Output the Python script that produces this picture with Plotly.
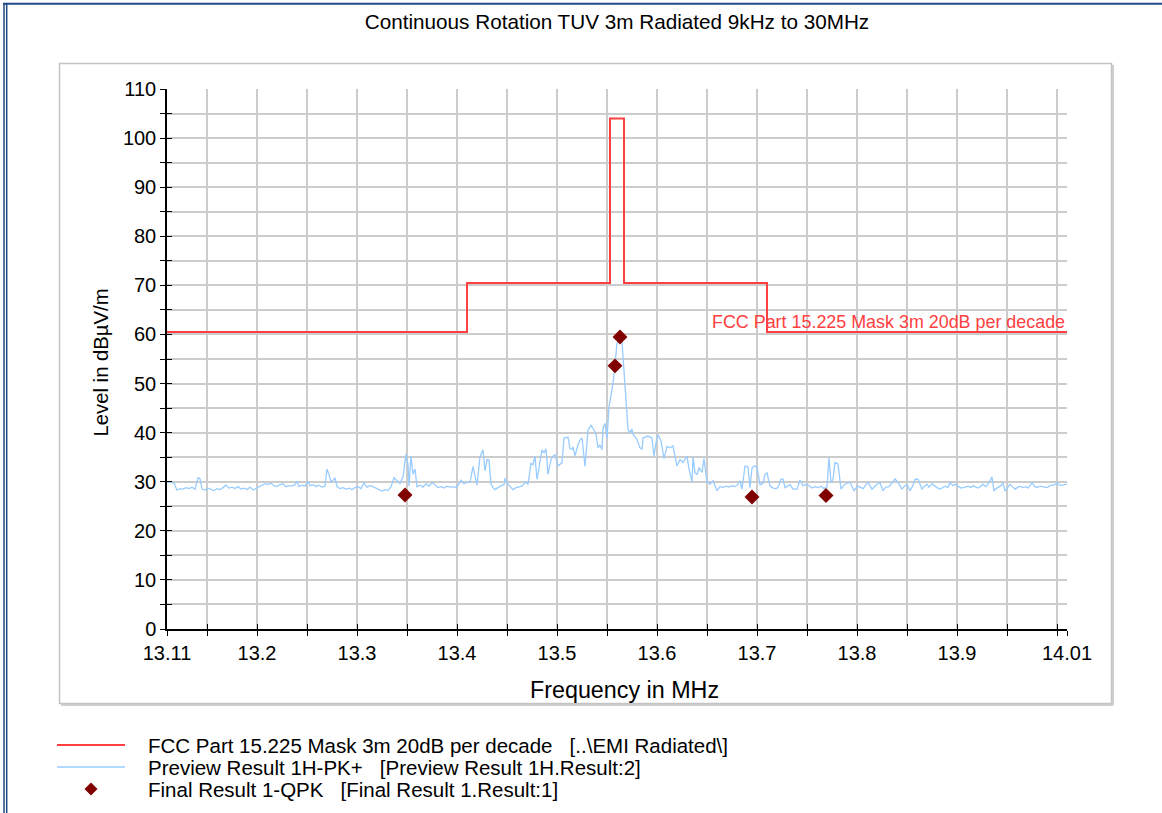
import plotly.graph_objects as go

# ---------------- data ----------------
title_text = "Continuous Rotation TUV 3m Radiated 9kHz to 30MHz"

mask_freq = [13.11, 13.41, 13.553, 13.567, 13.71, 14.01]
mask_level = [60.5, 70.5, 104.0, 70.5, 60.5, 60.5]

final_freq = [13.348, 13.558, 13.563, 13.695, 13.769]
final_level = [27.3, 53.6, 59.5, 26.9, 27.2]

preview_freq = [
    13.110, 13.113, 13.117, 13.120, 13.123, 13.126, 13.129, 13.132, 13.135, 13.138,
    13.141, 13.143, 13.145, 13.148, 13.151, 13.154, 13.157, 13.160, 13.163, 13.166,
    13.169, 13.172, 13.175, 13.178, 13.181, 13.184, 13.187, 13.190, 13.193, 13.196,
    13.199, 13.202, 13.205, 13.208, 13.211, 13.214, 13.217, 13.220, 13.223, 13.226,
    13.229, 13.232, 13.235, 13.238, 13.240, 13.242, 13.245, 13.248, 13.251, 13.253,
    13.256, 13.259, 13.262, 13.265, 13.268, 13.270, 13.272, 13.274, 13.276, 13.278,
    13.280, 13.283, 13.286, 13.289, 13.292, 13.295, 13.298, 13.301, 13.304, 13.307,
    13.310, 13.313, 13.316, 13.319, 13.322, 13.325, 13.328, 13.331, 13.334, 13.337,
    13.340, 13.343, 13.346, 13.349, 13.351, 13.352, 13.354, 13.356, 13.358, 13.360,
    13.363, 13.366, 13.369, 13.372, 13.375, 13.378, 13.381, 13.384, 13.387, 13.390,
    13.393, 13.396, 13.399, 13.402, 13.404, 13.407, 13.410,
    13.413, 13.416, 13.418, 13.420, 13.423, 13.426, 13.428, 13.430, 13.432, 13.434,
    13.436, 13.438, 13.441, 13.444, 13.447, 13.448, 13.451, 13.453, 13.456, 13.459,
    13.462, 13.465, 13.468, 13.471, 13.474, 13.476, 13.478, 13.480, 13.482, 13.485,
    13.487, 13.489, 13.491, 13.494, 13.496, 13.498, 13.501, 13.503, 13.505, 13.507,
    13.511, 13.513, 13.515, 13.516, 13.518, 13.521, 13.523, 13.525, 13.528, 13.531,
    13.534, 13.536, 13.539, 13.541, 13.543, 13.545, 13.546, 13.548, 13.550, 13.552,
    13.554, 13.556, 13.558, 13.560, 13.562, 13.565, 13.566, 13.569, 13.571, 13.573,
    13.575, 13.576, 13.580, 13.583, 13.585, 13.586, 13.589, 13.591, 13.595, 13.597,
    13.599, 13.601, 13.604, 13.607, 13.610, 13.613, 13.616, 13.618, 13.620, 13.623,
    13.626, 13.630, 13.632, 13.635, 13.636, 13.638, 13.640, 13.642, 13.645, 13.647,
    13.650, 13.653, 13.656, 13.660, 13.663, 13.666, 13.669, 13.672, 13.675, 13.678,
    13.680, 13.683, 13.685, 13.688, 13.691, 13.693, 13.695, 13.697, 13.700, 13.703,
    13.706, 13.708, 13.710, 13.713, 13.716, 13.719, 13.721, 13.724, 13.726, 13.728,
    13.731, 13.733, 13.736, 13.740, 13.743, 13.746, 13.750, 13.753, 13.755, 13.758,
    13.761, 13.764, 13.767, 13.770, 13.772, 13.774, 13.776, 13.778, 13.781, 13.784,
    13.788, 13.793, 13.797, 13.801, 13.806, 13.811, 13.815, 13.820, 13.823, 13.826,
    13.829, 13.832, 13.835, 13.838, 13.841, 13.845, 13.847, 13.850, 13.853, 13.856,
    13.858, 13.861, 13.865, 13.867, 13.870, 13.872, 13.875, 13.877, 13.880, 13.883,
    13.886, 13.888, 13.891, 13.893, 13.896, 13.898, 13.901, 13.904, 13.908, 13.911,
    13.914, 13.916, 13.919, 13.921, 13.924, 13.926, 13.929, 13.932, 13.935, 13.937,
    13.939, 13.941, 13.944, 13.946, 13.948, 13.951, 13.953, 13.956, 13.958, 13.961,
    13.963, 13.966, 13.969, 13.971, 13.973, 13.975, 13.978, 13.980, 13.983, 13.985,
    13.988, 13.990, 13.993, 13.995, 13.998, 14.000, 14.003, 14.005, 14.008, 14.010,
]

preview_level = [
    29.8, 29.9, 29.7, 28.3, 28.6, 28.5, 28.8, 28.6, 28.9, 28.5,
    30.8, 30.6, 28.5, 28.3, 28.7, 28.4, 28.2, 28.6, 28.4, 28.8,
    29.3, 28.7, 28.9, 28.6, 29.0, 28.5, 28.7, 28.4, 28.9, 28.3,
    28.6, 29.0, 29.3, 29.6, 29.4, 29.7, 29.2, 29.0, 29.4, 29.6,
    29.0, 29.2, 29.1, 29.4, 30.1, 29.0, 29.3, 29.1, 30.1, 29.2,
    29.4, 29.0, 29.3, 28.9, 29.1, 32.6, 31.5, 30.0, 30.3, 30.8,
    29.0, 28.6, 28.8, 28.5, 28.7, 28.4, 28.8, 29.0, 28.6, 29.8,
    28.9, 29.2, 29.0, 28.7, 28.3, 28.1, 28.4, 28.2, 29.0, 30.8,
    30.2, 29.6, 31.0, 35.7, 33.5, 29.1, 35.2, 31.5, 32.6, 29.0,
    29.3, 28.9, 29.6, 29.1, 29.8, 29.4, 28.8, 29.0, 28.7, 29.1,
    28.9, 29.0, 28.8, 29.5, 30.3, 29.6, 29.9,
    29.9, 33.1, 31.0, 29.3, 35.1, 36.5, 32.2, 34.5, 34.4, 29.5,
    28.8, 28.4, 28.8, 29.2, 29.4, 30.7, 29.5, 29.0, 28.4, 28.8,
    28.9, 29.1, 29.9, 29.5, 33.7, 33.5, 35.2, 30.5, 32.9, 36.5,
    35.9, 36.7, 31.5, 34.5, 35.2, 35.5, 33.2, 33.5, 33.9, 38.9,
    39.1, 36.7, 36.6, 37.1, 35.3, 37.5, 38.5, 38.9, 33.1, 40.5,
    41.5, 40.9, 39.7, 36.9, 37.5, 36.5, 40.9, 41.9, 38.9, 45.2,
    47.8, 50.0, 53.8, 58.2, 59.2, 58.5, 55.5, 47.3, 40.7, 40.0,
    40.7, 39.7, 38.6, 36.9, 36.6, 38.9, 39.2, 39.3, 38.9, 35.2,
    37.9, 39.6, 38.3, 34.7, 37.2, 36.9, 37.3, 35.2, 33.2, 34.5,
    33.9, 35.2, 32.6, 29.9, 35.0, 31.8, 31.5, 32.9, 31.9, 34.7,
    29.9, 29.5, 30.2, 28.2, 29.0, 28.8, 29.1, 28.9, 29.2, 29.0,
    29.3, 30.2, 28.5, 33.2, 33.0, 28.8, 32.8, 33.2, 33.0, 29.4,
    29.7, 31.5, 31.8, 29.1, 28.7, 28.6, 28.8, 30.5, 30.5, 28.8,
    29.2, 29.4, 28.5, 28.5, 30.3, 29.2, 29.5, 28.9, 28.7, 29.0,
    28.8, 29.1, 28.6, 29.0, 34.9, 29.8, 30.5, 33.9, 33.6, 28.5,
    29.5, 29.9, 28.2, 29.1, 28.6, 29.9, 28.5, 29.5, 29.8, 28.2,
    28.9, 29.0, 29.9, 30.6, 29.8, 28.5, 29.0, 29.5, 28.1, 29.3,
    30.5, 30.5, 28.5, 29.0, 29.5, 28.9, 29.6, 29.2, 28.8, 28.5,
    28.9, 29.1, 28.8, 29.8, 29.2, 29.5, 29.1, 28.7, 28.9, 29.1,
    28.8, 29.2, 28.9, 28.7, 29.1, 29.5, 29.0, 29.8, 31.0, 28.1,
    28.6, 28.8, 29.2, 29.8, 28.1, 28.9, 29.5, 28.9, 28.5, 28.9,
    29.1, 28.8, 29.0, 28.7, 29.3, 29.8, 29.0, 28.8, 29.1, 29.0,
    28.9, 28.8, 29.2, 29.3, 29.4, 29.8, 29.2, 29.3, 29.4, 29.5,
]

x_tick_vals = [13.11, 13.15, 13.2, 13.25, 13.3, 13.35, 13.4, 13.45, 13.5, 13.55,
               13.6, 13.65, 13.7, 13.75, 13.8, 13.85, 13.9, 13.95, 14.0, 14.01]
x_tick_text = ["13.11", "", "13.2", "", "13.3", "", "13.4", "", "13.5", "",
               "13.6", "", "13.7", "", "13.8", "", "13.9", "", "", "14.01"]
y_tick_vals = [0, 5, 10, 15, 20, 25, 30, 35, 40, 45, 50, 55,
               60, 65, 70, 75, 80, 85, 90, 95, 100, 105, 110]
y_tick_text = ["0", "", "10", "", "20", "", "30", "", "40", "", "50", "",
               "60", "", "70", "", "80", "", "90", "", "100", "", "110"]

legend_labels = [
    "FCC Part 15.225 Mask 3m 20dB per decade\u00a0\u00a0\u00a0[..\\EMI Radiated\\]",
    "Preview Result 1H-PK+\u00a0\u00a0\u00a0[Preview Result 1H.Result:2]",
    "Final Result 1-QPK\u00a0\u00a0\u00a0[Final Result 1.Result:1]",
]
mask_label = "FCC Part 15.225 Mask 3m 20dB per decade"

# ---------------- styling ----------------
FONT = "Liberation Sans, Arial, sans-serif"
RED = "#ff4040"
BLUE = "#99ccff"
MAROON = "#800000"
GRID = "#cccccc"

W, H = 1162, 813
L, R, T, B = 167, 95, 89, 184
PW, PH = W - L - R, H - T - B


def px(x):
    return (x - L) / PW


def py(y):
    return (H - B - y) / PH


fig = go.Figure()

fig.add_trace(go.Scatter(
    x=preview_freq, y=preview_level, mode="lines",
    line=dict(color=BLUE, width=1.3), name="Preview Result 1H-PK+",
    showlegend=False, hoverinfo="skip"))

fig.add_trace(go.Scatter(
    x=mask_freq, y=mask_level, mode="lines", line_shape="hv",
    line=dict(color=RED, width=2), name="FCC Part 15.225 Mask",
    showlegend=False, hoverinfo="skip"))

fig.add_trace(go.Scatter(
    x=final_freq, y=final_level, mode="markers",
    marker=dict(symbol="diamond", size=11.5, color=MAROON),
    name="Final Result 1-QPK", showlegend=False, hoverinfo="skip"))

# dummy trace for the overlay axes (inner tick marks)
fig.add_trace(go.Scatter(x=[13.5], y=[-50], xaxis="x2", yaxis="y2",
                         mode="markers", marker=dict(opacity=0),
                         showlegend=False, hoverinfo="skip"))

axis_common = dict(
    showline=True, linecolor="black", linewidth=1.5,
    ticks="outside", ticklen=5, tickwidth=1.2, tickcolor="black",
    showgrid=True, gridcolor=GRID, gridwidth=1.5,
    zeroline=False, tickfont=dict(family=FONT, size=20, color="black"),
)

fig.update_layout(
    width=W, height=H,
    margin=dict(l=L, r=R, t=T, b=B),
    paper_bgcolor="white", plot_bgcolor="white",
    font=dict(family=FONT, color="black"),
    title=dict(text=title_text, x=0.5, xref="paper", xanchor="center",
               y=1 - 22 / H, yref="container", yanchor="middle",
               font=dict(family=FONT, size=20.7, color="black")),
    xaxis=dict(range=[13.11, 14.01], tickmode="array",
               tickvals=x_tick_vals, ticktext=x_tick_text, **axis_common),
    yaxis=dict(range=[0, 110], tickmode="array",
               tickvals=y_tick_vals, ticktext=y_tick_text, **axis_common),
    xaxis2=dict(range=[13.11, 14.01], overlaying="x", anchor="y2", side="bottom",
                tickmode="array", tickvals=x_tick_vals, showticklabels=False,
                ticks="inside", ticklen=5, tickwidth=1.2, tickcolor="black",
                showgrid=False, zeroline=False, showline=False),
    yaxis2=dict(range=[0, 110], overlaying="y", anchor="x2", side="left",
                tickmode="array", tickvals=y_tick_vals, showticklabels=False,
                ticks="inside", ticklen=5, tickwidth=1.2, tickcolor="black",
                showgrid=False, zeroline=False, showline=False),
    showlegend=False,
)

shapes = []
# outer blue frame
shapes.append(dict(type="line", xref="paper", yref="paper",
                   x0=px(3), x1=px(W + 5), y0=py(3.7), y1=py(3.7),
                   line=dict(color="#1f4a85", width=2)))
for xx in (4.0, 6.7):
    shapes.append(dict(type="line", xref="paper", yref="paper",
                       x0=px(xx), x1=px(xx), y0=py(3), y1=py(H + 5),
                       line=dict(color="#1f4a85", width=1.5)))
# chart panel with subtle shadow
shapes.append(dict(type="line", xref="paper", yref="paper",
                   x0=px(1113), x1=px(1113), y0=py(65), y1=py(705),
                   line=dict(color="#d0d0d0", width=2)))
shapes.append(dict(type="line", xref="paper", yref="paper",
                   x0=px(61), x1=px(1113), y0=py(705), y1=py(705),
                   line=dict(color="#d0d0d0", width=2)))
shapes.append(dict(type="rect", xref="paper", yref="paper",
                   x0=px(59.5), x1=px(1111.5), y0=py(703.5), y1=py(63.5),
                   line=dict(color="#c4c4c4", width=1.5)))
# legend samples
shapes.append(dict(type="line", xref="paper", yref="paper",
                   x0=px(57), x1=px(125), y0=py(745), y1=py(745),
                   line=dict(color=RED, width=2)))
shapes.append(dict(type="line", xref="paper", yref="paper",
                   x0=px(57), x1=px(125), y0=py(767), y1=py(767),
                   line=dict(color=BLUE, width=1.5)))
cx, cy, hw = 91, 789, 6.5
shapes.append(dict(type="path", xref="paper", yref="paper",
                   path=(f"M {px(cx - hw)} {py(cy)} L {px(cx)} {py(cy - hw)} "
                         f"L {px(cx + hw)} {py(cy)} L {px(cx)} {py(cy + hw)} Z"),
                   fillcolor=MAROON, line=dict(color=MAROON, width=0)))
fig.update_layout(shapes=shapes)

annotations = [
    dict(text="Level in dBµV/m", textangle=-90, xref="paper", yref="paper",
         x=px(100), y=py(362.5), xanchor="center", yanchor="middle",
         showarrow=False, font=dict(family=FONT, size=20.3, color="black")),
    dict(text="Frequency in MHz", xref="paper", yref="paper",
         x=px(624.5), y=py(690), xanchor="center", yanchor="middle",
         showarrow=False, font=dict(family=FONT, size=23.3, color="black")),
    dict(text=mask_label, xref="x", yref="y", x=14.01, y=62.6,
         xanchor="right", yanchor="middle", showarrow=False,
         font=dict(family=FONT, size=17.9, color=RED)),
]
for i, lab in enumerate(legend_labels):
    annotations.append(dict(text=lab, xref="paper", yref="paper",
                            x=px(146), y=py(745 + 22 * i), xanchor="left",
                            yanchor="middle", showarrow=False,
                            font=dict(family=FONT, size=20.5, color="black")))
fig.update_layout(annotations=annotations)

# remove the browser's default 8px body margin so the figure sits at (0, 0)
fig.write_html("out.html",
               config={"displayModeBar": False},
               post_script="document.body.style.margin='0';"
                           "document.body.style.overflow='hidden';")
